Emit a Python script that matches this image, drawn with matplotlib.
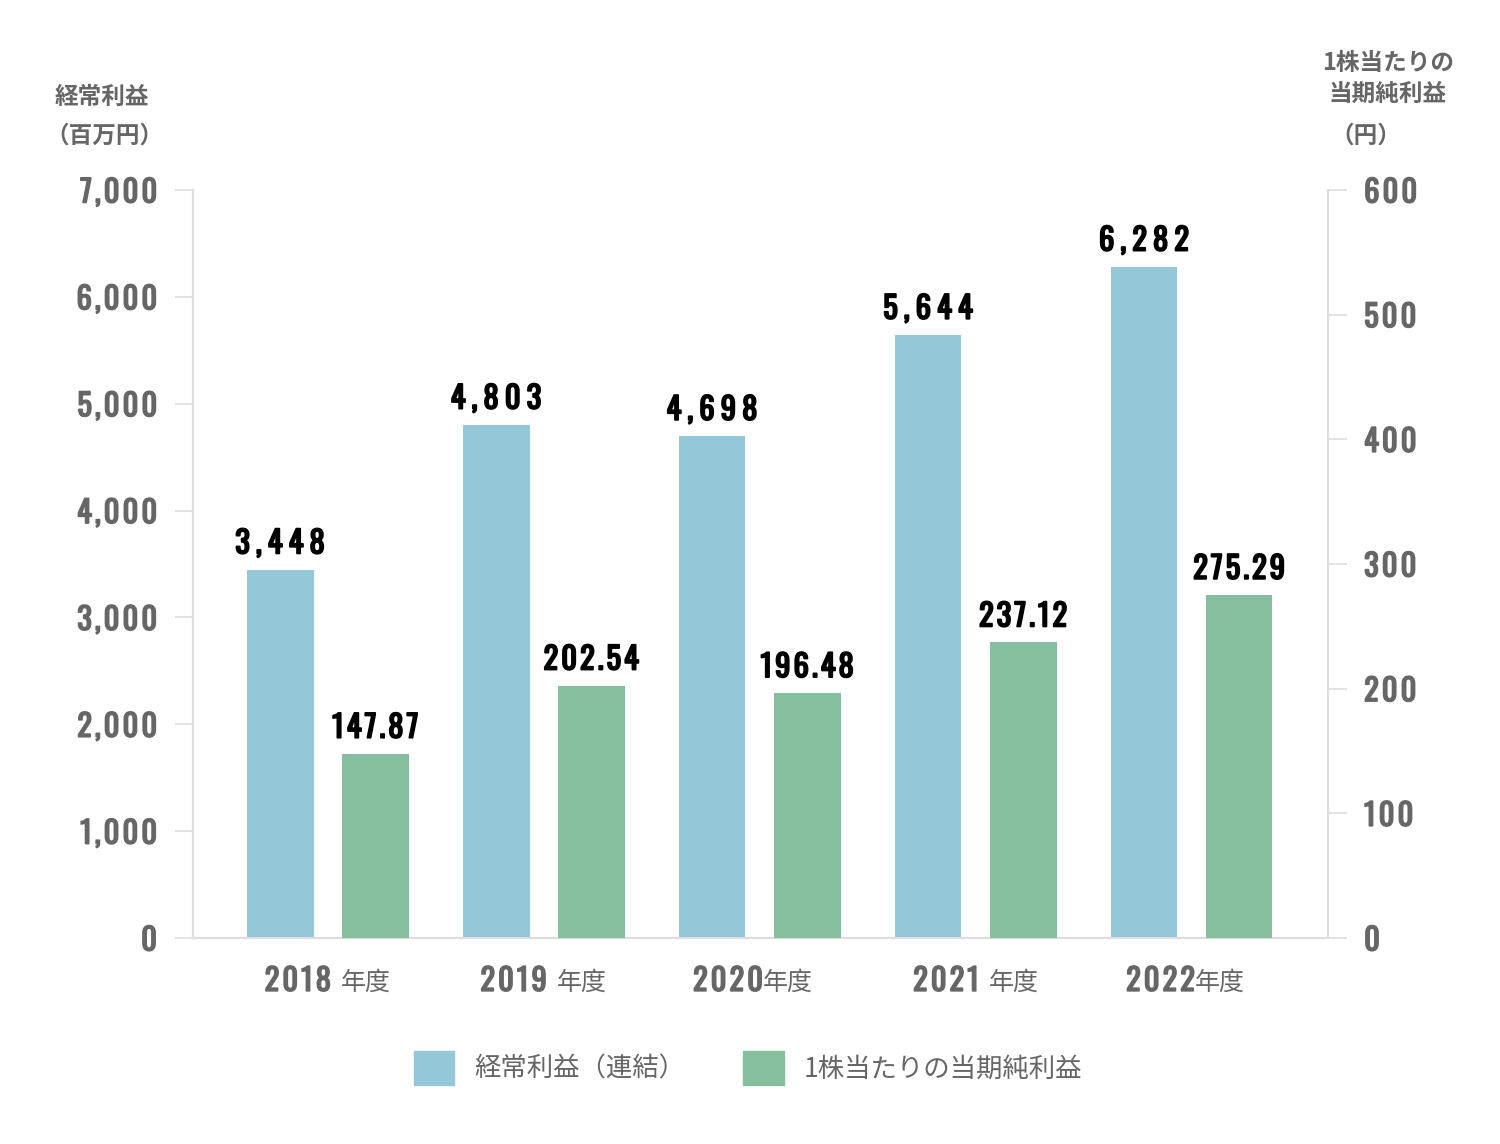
import matplotlib.pyplot as plt
import matplotlib.patheffects as pe
from matplotlib.patches import Patch

years = ['2018', '2019', '2020', '2021', '2022']
year_gap = [' ', ' ', '', ' ', '']
ordinary_profit = [3448, 4803, 4698, 5644, 6282]
eps = [147.87, 202.54, 196.48, 237.12, 275.29]
profit_labels = ['3,448', '4,803', '4,698', '5,644', '6,282']
eps_labels = ['147.87', '202.54', '196.48', '237.12', '275.29']
left_ticks = [0, 1000, 2000, 3000, 4000, 5000, 6000, 7000]
right_ticks = [0, 100, 200, 300, 400, 500, 600]

blue = '#94c7d7'
green = '#85bf9d'
gray = '#666666'
spine = '#dddddd'
num_font = ['Oswald', 'DejaVu Sans']
jp_font = ['Noto Sans CJK JP', 'DejaVu Sans']
TS = '\u2009'  # thin space
HS = '\u200a'  # hair space


def spaced(s, sep=TS):
    return sep.join(s)


def bold(c, lw):
    return [pe.withStroke(linewidth=lw, foreground=c)]


fig = plt.figure(figsize=(15, 11.44), dpi=100)
ax = fig.add_axes([193/1500, 1-938/1144, (1328-193)/1500, (938-190)/1144])
ax2 = ax.twinx()

x = list(range(len(years)))
w = 0.31
off = 0.22
ax.bar([i - off for i in x], ordinary_profit, width=w, color=blue, zorder=3)
ax2.bar([i + off for i in x], eps, width=w, color=green, zorder=3)

ax.set_ylim(0, 7000)
ax2.set_ylim(0, 600)
ax.set_xlim(-0.623, 4.632)

for i in x:
    ax.text(i - off, ordinary_profit[i] + 95, spaced(profit_labels[i]), ha='center', va='bottom',
            fontsize=22, family=num_font, color='black', path_effects=bold('black', 1.3))
    ax2.text(i + off, eps[i] + 8, spaced(eps_labels[i], HS), ha='center', va='bottom',
             fontsize=22, family=num_font, color='black', path_effects=bold('black', 1.3))

ax.set_yticks(left_ticks)
ax.set_yticklabels([spaced(f'{v:,}', HS) for v in left_ticks])
ax2.set_yticks(right_ticks)
ax2.set_yticklabels([spaced(str(v), HS) for v in right_ticks])
for a in (ax, ax2):
    for lab in a.get_yticklabels():
        lab.set_family(num_font)
        lab.set_fontsize(22)
        lab.set_color(gray)
        lab.set_path_effects(bold(gray, 1.1))
ax.tick_params(axis='y', length=13, width=1.2, color=spine, pad=13)
ax2.tick_params(axis='y', length=14, width=1.2, color=spine, pad=12)
ax.set_xticks([])

for a in (ax, ax2):
    a.spines['top'].set_visible(False)
    for s in ('left', 'right', 'bottom'):
        a.spines[s].set_color(spine)
        a.spines[s].set_linewidth(1.5)
ax.patch.set_visible(False)

# x labels: year + 年度
for i in x:
    ax.text(i + 0.015, -0.058, spaced(years[i], HS), transform=ax.get_xaxis_transform(), ha='right',
            va='center', fontsize=22, family=num_font, color=gray, path_effects=bold(gray, 1.1))
    ax.text(i + 0.015 + (0.045 if year_gap[i] else 0.0), -0.06, '年度', transform=ax.get_xaxis_transform(),
            ha='left', va='center', fontsize=18, family=jp_font, color=gray)

# axis titles
title_kw = dict(ha='center', va='center', fontsize=17, fontweight='bold', family=jp_font, color=gray)
fig.text(102/1500, 1-97/1144, '経常利益', **title_kw)
fig.text(104/1500, 1-136/1144, '（百万円）', **title_kw)
fig.text(1388/1500, 1-63/1144, '1株当たりの', **title_kw)
fig.text(1388/1500, 1-94/1144, '当期純利益', **title_kw)
fig.text(1366/1500, 1-136/1144, '（円）', **title_kw)

handles = [Patch(color=blue), Patch(color=green)]
leg = fig.legend(handles, ['経常利益（連結）', '1株当たりの当期純利益'], loc='center',
                 bbox_to_anchor=(748/1500, 1-1068/1144), ncol=2, frameon=False,
                 handlelength=1.55, handleheight=1.55, handletextpad=0.75, columnspacing=2.2,
                 prop={'family': jp_font, 'size': 19})
for t in leg.get_texts():
    t.set_color(gray)

fig.savefig('out.png', dpi=100)
